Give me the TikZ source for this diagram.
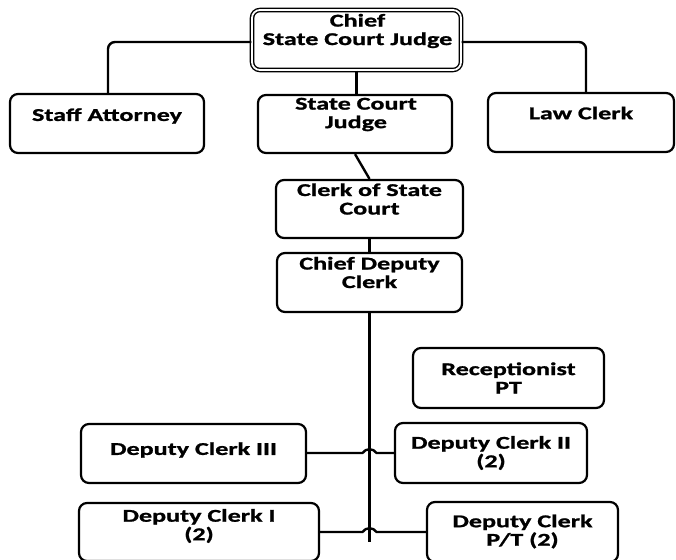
\documentclass[tikz,border=0pt]{standalone}
\usepackage{fontspec}
\setmainfont{Carlito}[FakeStretch=1.45, BoldFeatures={FakeBold=1.2}]
\usetikzlibrary{calc}
\begin{document}
\begin{tikzpicture}[x=1pt,y=-1pt,
  box/.style={draw, line width=2.2pt, rounded corners=8pt, fill=white, inner sep=0pt},
  headbox/.style={box, line width=1.4pt, double=white, double distance=1.8pt},
  lbl/.style={font=\fontsize{18}{18.5}\selectfont\bfseries, align=center, inner sep=0pt},
  link/.style={line width=2.4pt},
]
\clip (0,0) rectangle (676,559);
\fill[white] (0,0) rectangle (676,559);

% boxes
\node[headbox, minimum width=209pt, minimum height=60pt] (chief) at (356.5,40) {};
\node[box, minimum width=194pt, minimum height=59pt] (staff) at (107,123.5) {};
\node[box, minimum width=194pt, minimum height=58pt] (judge) at (355,124) {};
\node[box, minimum width=186pt, minimum height=59pt] (law) at (581,122.5) {};
\node[box, minimum width=187pt, minimum height=58pt] (clerk) at (369.5,209) {};
\node[box, minimum width=185pt, minimum height=59pt] (cdc) at (369.5,282.5) {};
\node[box, minimum width=191pt, minimum height=60pt] (recep) at (508.5,378) {};
\node[box, minimum width=225pt, minimum height=59pt] (dc3) at (193.5,453.5) {};
\node[box, minimum width=192pt, minimum height=60pt] (dc2) at (491,453) {};
\node[box, minimum width=240pt, minimum height=58pt] (dc1) at (199,532) {};
\node[box, minimum width=191pt, minimum height=60pt] (dcpt) at (522.5,532) {};

% labels
\node[lbl] (chief-t) at ($(chief.center)+(1,-9)$) {Chief\\State Court Judge};
\node[lbl] (staff-t) at ($(staff.center)+(0,-7.5)$) {Staff Attorney};
\node[lbl] (judge-t) at ($(judge.center)+(1,-9.5)$) {State Court\\Judge};
\node[lbl] (law-t) at ($(law.center)+(0,-9.5)$) {Law Clerk};
\node[lbl] (clerk-t) at ($(clerk.center)+(0,-10)$) {Clerk of State\\Court};
\node[lbl] (cdc-t) at ($(cdc.center)+(0,-10)$) {Chief Deputy\\Clerk};
\node[lbl] (recep-t) at (recep.center) {Receptionist\\PT};
\node[lbl] (dc3-t) at ($(dc3.center)+(0,-3.5)$) {Deputy Clerk III};
\node[lbl] (dc2-t) at (dc2.center) {Deputy Clerk II\\(2)};
\node[lbl] (dc1-t) at ($(dc1.center)+(0,-6)$) {Deputy Clerk I\\(2)};
\node[lbl] (dcpt-t) at ($(dcpt.center)+(0,-0.5)$) {Deputy Clerk\\P/T (2)};

% connectors
\coordinate (trunk) at (369.5,542);
\draw[link, rounded corners=7pt] ([yshift=-2pt]chief.west) -| ([xshift=1pt]staff.north);
\draw[link, rounded corners=7pt] ([yshift=-2pt]chief.east) -| ([xshift=5pt]law.north);
\draw[link] (chief.south) -- (chief.south |- judge.north);
\draw[link] (judge.south) -- (clerk.north);
\draw[link] (clerk.south) -- (cdc.north);
\draw[link] (cdc.south) -- (trunk);
\draw[link] (dc3.east |- dc2.west) -- ($(dc2.west -| trunk)+(-7,0)$)
  .. controls +(3,-5) and +(-3,-5) .. ($(dc2.west -| trunk)+(7,0)$) -- (dc2.west);
\draw[link] (dc1.east) -- ($(dc1.east -| trunk)+(-7,0)$)
  .. controls +(3,-5) and +(-3,-5) .. ($(dc1.east -| trunk)+(7,0)$) -- (dcpt.west);
\end{tikzpicture}
\end{document}
